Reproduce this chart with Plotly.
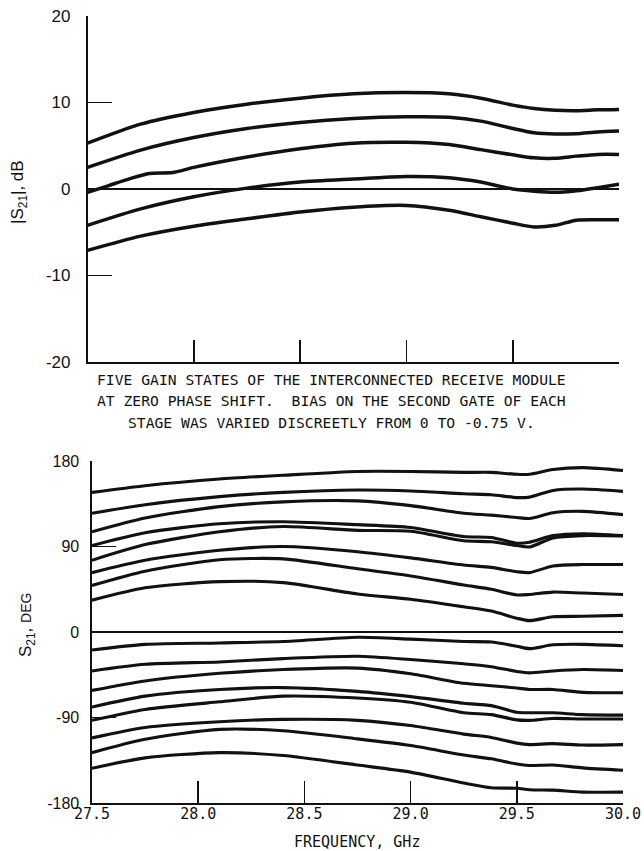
import plotly.graph_objects as go

# ---------------- Data: |S21| (dB), five gain states ----------------
freq_top = [27.5, 27.75, 28.0, 28.25, 28.5, 28.75, 29.0, 29.2, 29.35, 29.5, 29.6, 29.7, 29.8, 29.9, 30.0]
freq_top_state3 = [27.5, 27.6, 27.7, 27.79, 27.9, 28.0, 28.25, 28.5, 28.75, 29.0, 29.2, 29.35, 29.5, 29.6, 29.7, 29.8, 29.9, 30.0]

gain_state1 = [5.3, 7.5, 8.85, 9.8, 10.5, 11.0, 11.15, 11.0, 10.5, 9.7, 9.3, 9.1, 9.05, 9.15, 9.2]
gain_state2 = [2.5, 4.5, 5.95, 7.0, 7.7, 8.15, 8.35, 8.3, 7.85, 7.0, 6.5, 6.35, 6.4, 6.6, 6.7]
gain_state3 = [-0.4, 0.4, 1.2, 1.8, 1.9, 2.5, 3.7, 4.65, 5.3, 5.4, 5.15, 4.55, 3.95, 3.6, 3.55, 3.8, 4.0, 4.0]
gain_state4 = [-4.2, -2.3, -0.9, 0.1, 0.8, 1.15, 1.45, 1.3, 0.8, 0.0, -0.25, -0.38, -0.2, 0.15, 0.55]
gain_state5 = [-7.1, -5.45, -4.3, -3.45, -2.65, -2.1, -1.9, -2.45, -3.2, -3.95, -4.38, -4.2, -3.6, -3.55, -3.55]

# ---------------- Data: S21 phase (deg), sixteen phase states ----------------
freq_bot = [27.5, 27.75, 28.1, 28.4, 28.75, 29.0, 29.25, 29.38, 29.5, 29.56, 29.67, 29.81, 30.0]

phase_1 = [147, 154, 161, 165, 169, 169, 168, 168, 166, 166, 171, 173, 170]
phase_2 = [125, 134, 142.5, 147, 149.5, 148.5, 145.5, 144.5, 141.5, 142, 149, 150.5, 148]
phase_3 = [105.5, 120, 132, 137, 138, 133, 125, 123, 120.5, 119.5, 125.5, 127, 123.5]
phase_4 = [91, 104.5, 114, 116, 113, 110, 100.5, 99.5, 93.5, 94.5, 101.5, 103.5, 101.5]
phase_5 = [75.5, 92, 105.5, 111, 107, 106, 96, 95, 91, 89.5, 99, 101.5, 101]
phase_6 = [62.5, 75.5, 86, 90, 84.5, 78, 70.5, 68, 63.5, 62.5, 69.5, 71, 71]
phase_7 = [49, 64, 76, 77, 66.5, 59, 49.5, 45, 39, 39.5, 42, 41, 39.5]
phase_8 = [33.5, 46.5, 53, 52, 40, 34.5, 26.5, 22, 14.5, 12, 16, 16.5, 17.5]
phase_9 = [-19, -13, -11.5, -10, -5.5, -7.5, -10, -10.5, -15, -17.5, -13.5, -13, -14.5]
phase_10 = [-41, -34, -31.5, -28, -25.5, -29, -33.5, -36.5, -41.5, -43, -41, -39.5, -40.5]
phase_11 = [-61.5, -51.5, -43.5, -39.5, -38, -44, -54, -56.5, -59, -60.5, -60.5, -63.5, -64]
phase_12 = [-79, -67.5, -60.5, -58.5, -62.5, -68, -75, -77.5, -84.5, -85, -85, -87, -87.5]
phase_13 = [-93, -81.5, -73.5, -67.5, -69.5, -74, -85, -87, -92.5, -93, -91, -91.5, -91.5]
phase_14 = [-111.5, -100.5, -94.5, -92, -93, -98.5, -107.5, -111, -117, -118.5, -117.5, -119, -118.5]
phase_15 = [-127, -113, -102.5, -104, -112.5, -119.5, -129.5, -133.5, -139, -140.5, -140, -143, -145.5]
phase_16 = [-143.5, -132.5, -127, -130, -140, -147.5, -159, -164, -164.5, -166, -166.5, -168.5, -168.5]

top_ticks = [-20, -10, 0, 10, 20]
bot_ticks = [-180, -90, 0, 90, 180]
x_ticks = [27.5, 28.0, 28.5, 29.0, 29.5, 30.0]
x_ticktext = ["27.5", "28.0", "28.5", "29.0", "29.5", "30.0"]

caption_lines = [
    "FIVE GAIN STATES OF THE INTERCONNECTED RECEIVE MODULE",
    "AT ZERO PHASE SHIFT.  BIAS ON THE SECOND GATE OF EACH",
    "STAGE WAS VARIED DISCREETLY FROM 0 TO -0.75 V.",
]

INK = "#111111"
W, H = 644, 851

fig = go.Figure()

top_series = [
    (freq_top, gain_state1), (freq_top, gain_state2), (freq_top_state3, gain_state3),
    (freq_top, gain_state4), (freq_top, gain_state5),
]
for fx, fy in top_series:
    fig.add_trace(go.Scatter(x=fx, y=fy, mode="lines", xaxis="x", yaxis="y",
                             line=dict(color=INK, width=3.5, shape="spline", smoothing=0.7),
                             hoverinfo="skip"))

bottom_series = [phase_1, phase_2, phase_3, phase_4, phase_5, phase_6, phase_7, phase_8,
                 phase_9, phase_10, phase_11, phase_12, phase_13, phase_14, phase_15, phase_16]
for fy in bottom_series:
    fig.add_trace(go.Scatter(x=freq_bot, y=fy, mode="lines", xaxis="x2", yaxis="y2",
                             line=dict(color=INK, width=3.1, shape="spline", smoothing=0.7),
                             hoverinfo="skip"))

def px_x(p):
    return p / W

def px_y(p):
    return 1 - p / H

axis_common = dict(showgrid=False, showline=True, linecolor=INK, linewidth=1.6,
                   ticks="inside", tickcolor=INK, tickwidth=1.6, mirror=False,
                   automargin=False)

fig.update_layout(
    width=W, height=H,
    margin=dict(l=0, r=0, t=0, b=0, pad=0, autoexpand=False),
    paper_bgcolor="white", plot_bgcolor="white",
    showlegend=False,
    hovermode=False,
    xaxis=dict(domain=[px_x(87.5), px_x(619)], range=[27.5, 30.0], anchor="y",
               tickvals=[28.0, 28.5, 29.0, 29.5, 30.0], showticklabels=False,
               ticklen=22, zeroline=False, **axis_common),
    yaxis=dict(domain=[px_y(362), px_y(16)], range=[-20, 20], anchor="x",
               tickvals=top_ticks, ticktext=[str(v) for v in top_ticks], ticklen=24,
               zeroline=True, zerolinecolor=INK, zerolinewidth=1.3,
               ticklabelstandoff=12,
               tickfont=dict(family="Liberation Sans, Arial, sans-serif", size=17, color=INK),
               **axis_common),
    xaxis2=dict(domain=[px_x(92), px_x(623)], range=[27.5, 30.0], anchor="y2",
                tickvals=x_ticks, ticktext=x_ticktext, ticklen=22, zeroline=False,
                ticklabelstandoff=-4,
                tickfont=dict(family="DejaVu Sans Mono, monospace", size=15, color=INK),
                **axis_common),
    yaxis2=dict(domain=[px_y(803), px_y(461)], range=[-180, 180], anchor="x2",
                tickvals=bot_ticks, ticktext=[str(v) for v in bot_ticks], ticklen=24,
                zeroline=True, zerolinecolor=INK, zerolinewidth=1.3,
                ticklabelstandoff=8,
                tickfont=dict(family="Liberation Sans, Arial, sans-serif", size=16, color=INK),
                **axis_common),
)

annotations = []
for i, line in enumerate(caption_lines):
    annotations.append(dict(text=line, x=px_x(331), y=px_y([379, 401, 422][i]),
                            xref="paper", yref="paper", showarrow=False,
                            xanchor="center", yanchor="middle",
                            font=dict(family="DejaVu Sans Mono, monospace", size=14.7, color=INK)))
annotations.append(dict(text="FREQUENCY, GHz", x=px_x(357), y=px_y(842),
                        xref="paper", yref="paper", showarrow=False,
                        xanchor="center", yanchor="middle",
                        font=dict(family="DejaVu Sans Mono, monospace", size=15, color=INK)))
annotations.append(dict(text="|S<sub>21</sub>|, dB", x=px_x(19), y=px_y(192),
                        xref="paper", yref="paper", showarrow=False, textangle=-90,
                        xanchor="center", yanchor="middle",
                        font=dict(family="Liberation Sans, Arial, sans-serif", size=17, color=INK)))
annotations.append(dict(text="S<sub>21</sub>, <span style='font-size:14px'>DEG</span>",
                        x=px_x(27), y=px_y(625),
                        xref="paper", yref="paper", showarrow=False, textangle=-90,
                        xanchor="center", yanchor="middle",
                        font=dict(family="Liberation Sans, Arial, sans-serif", size=17, color=INK)))
fig.update_layout(annotations=annotations)

fig.write_html("out.html",
               config={"displayModeBar": False, "staticPlot": True},
               post_script="document.body.style.margin='0px';document.body.style.overflow='hidden';")
